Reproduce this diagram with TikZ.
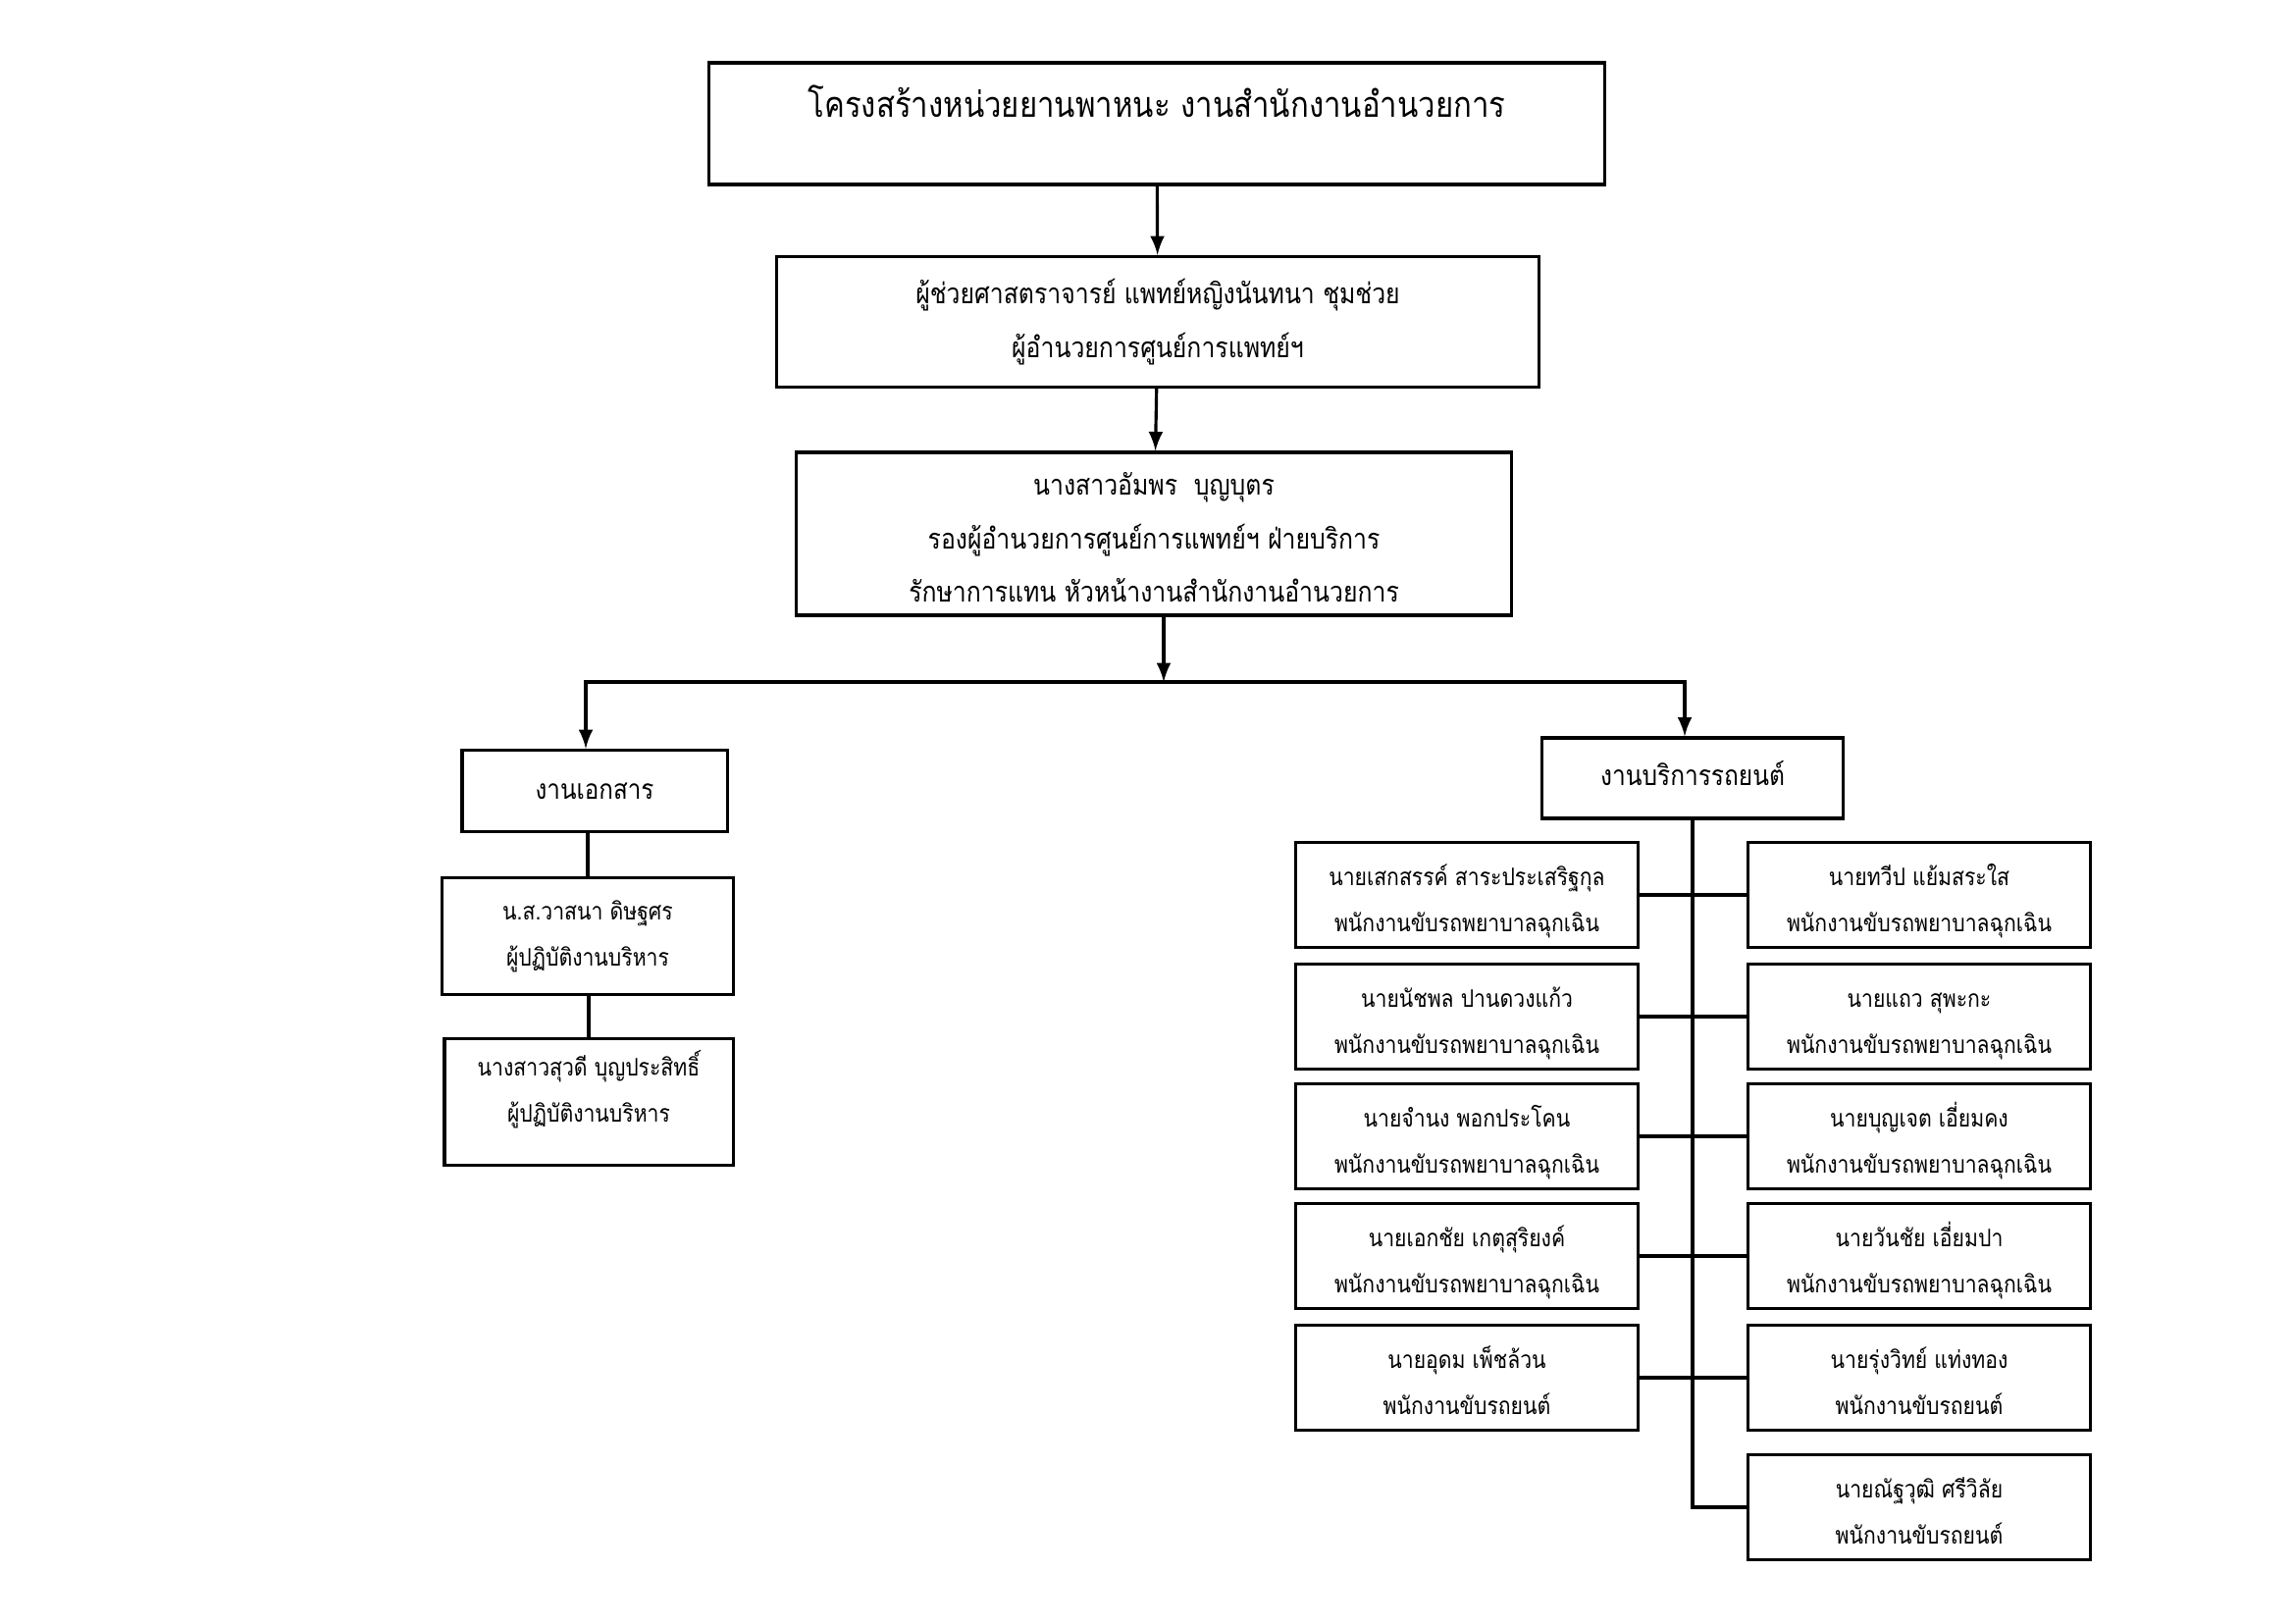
\documentclass[tikz,border=0pt]{standalone}
\usepackage{fontspec}
\newfontfamily\thaifont[Script=Thai, FakeStretch=0.86]{Loma}
\usetikzlibrary{calc}

% job titles used in the drivers' boxes
\def\ems{พนักงานขับรถพยาบาลฉุกเฉิน}
\def\drv{พนักงานขับรถยนต์}

\begin{document}
\begin{tikzpicture}[x = 0.01cm, y = -0.01cm, line width = 0.9pt,
  box/.style = {draw, align=center, inner sep=0pt},
  bigbox/.style = {box, font=\thaifont\fontsize{8.2}{15.5}\selectfont},
  smallbox/.style = {box, minimum width=3.49cm, minimum height=1.07cm,
    font=\thaifont\fontsize{7}{13.4}\selectfont},
  driver/.style = {smallbox, text height=22pt, text depth=0.5pt}]

  \useasboundingbox (0,0) rectangle (2339,1654);

  % column positions of the drivers
  \def\lx{1495}
  \def\rx{1956}

  % top of the chart
  \node[box, minimum width=9.12cm, minimum height=1.24cm, text depth=0.45cm,
    font=\thaifont\fontsize{10.3}{12}\selectfont] (title) at (1179,126)
    {โครงสร้างหน่วยยานพาหนะ งานสำนักงานอำนวยการ};
  \node[bigbox, minimum width=7.76cm, minimum height=1.33cm] (head) at (1180,328)
    {ผู้ช่วยศาสตราจารย์ แพทย์หญิงนันทนา ชุมช่วย\\ผู้อำนวยการศูนย์การแพทย์ฯ};
  \node[bigbox, minimum width=7.29cm, minimum height=1.66cm,
    text height=40.5pt, text depth=0.7pt] (deputy) at (1176,544)
    {นางสาวอัมพร~~บุญบุตร\\รองผู้อำนวยการศูนย์การแพทย์ฯ ฝ่ายบริการ\\รักษาการแทน หัวหน้างานสำนักงานอำนวยการ};

  \draw[->, >=latex] (title) -- (head);
  \draw[->, >=latex] (head) -- (deputy);

  % the two units
  \node[box, minimum width=2.70cm, minimum height=0.83cm,
    font=\thaifont\fontsize{8}{12}\selectfont] (docs) at (606,806) {งานเอกสาร};
  \node[box, minimum width=3.07cm, minimum height=0.82cm, text height=5.5pt,
    text depth=1.4pt, font=\thaifont\fontsize{8.1}{12}\selectfont] (cars) at (1725,793)
    {งานบริการรถยนต์};

  \coordinate (fork) at (1186,695);
  \draw[->, >=latex] (deputy.south -| fork) -- (fork);
  \draw[<->, >=latex] ($(docs.north)+(-9,0)$) -- ($(docs.north |- fork)+(-9,0)$)
    -- ($(cars.north |- fork)+(-8,0)$) -- ($(cars.north)+(-8,0)$);

  % document staff
  \node[smallbox, minimum width=2.97cm, minimum height=1.19cm] (vasana) at (599,954)
    {น.ส.วาสนา ดิษฐศร\\ผู้ปฏิบัติงานบริหาร};
  \node[smallbox, minimum width=2.94cm, minimum height=1.29cm, text height=13pt,
    text depth=1.2pt] (suwadee) at (600,1123)
    {นางสาวสุวดี บุญประสิทธิ์\\ผู้ปฏิบัติงานบริหาร};

  \draw (vasana.north) -- (vasana.north |- docs.south);
  \draw (suwadee.north) -- (suwadee.north |- vasana.south);

  % drivers
  \foreach \n/\y/\who/\job in {1/912/นายเสกสรรค์ สาระประเสริฐกุล/\ems,
    2/1036/นายนัชพล ปานดวงแก้ว/\ems, 3/1158/นายจำนง พอกประโคน/\ems,
    4/1280/นายเอกชัย เกตุสุริยงค์/\ems, 5/1404/นายอุดม เพ็ชล้วน/\drv}
    \node[driver] (l\n) at (\lx,\y) {\who\\\job};

  \foreach \n/\y/\who/\job in {1/912/นายทวีป แย้มสระใส/\ems,
    2/1036/นายแถว สุพะกะ/\ems, 3/1158/นายบุญเจต เอี่ยมคง/\ems,
    4/1280/นายวันชัย เอี่ยมปา/\ems, 5/1404/นายรุ่งวิทย์ แท่งทอง/\drv,
    6/1536/นายณัฐวุฒิ ศรีวิลัย/\drv}
    \node[driver] (r\n) at (\rx,\y) {\who\\\job};

  \draw (cars.south) -- (cars.south |- r6.west) -- (r6.west);
  \foreach \n in {1,...,5}
    \draw (l\n.east) -- (r\n.west);

\end{tikzpicture}
\end{document}
